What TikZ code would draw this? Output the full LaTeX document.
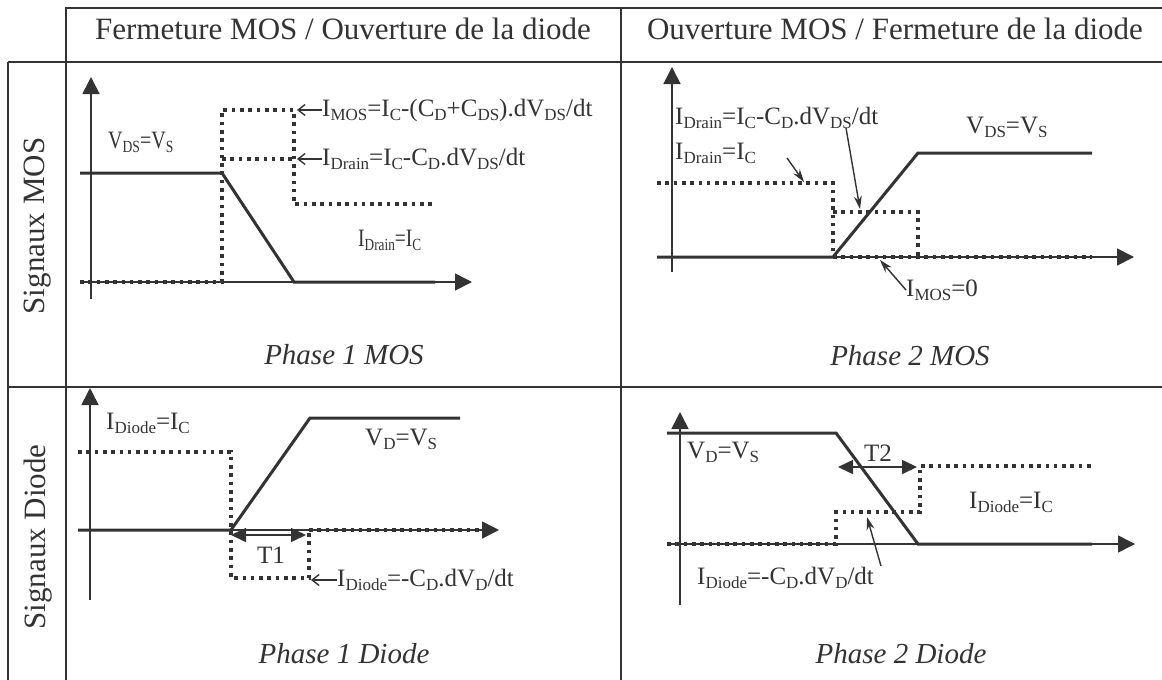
\documentclass[tikz,border=0pt]{standalone}
\usepackage{fontspec}
\setmainfont{Liberation Serif}
\usetikzlibrary{arrows.meta}
\definecolor{ink}{gray}{0.2}
\newcommand{\sbx}[1]{\raisebox{-0.35ex}{\fontsize{0.68em}{1em}\selectfont #1}}
\tikzset{
  gridline/.style={line width=1.2pt, draw=ink},
  axis/.style={line width=1.6pt, draw=ink, -{Triangle[length=17pt,width=17pt]}},
  sig/.style={line width=3pt, draw=ink, line join=miter},
  dots/.style={line width=3.6pt, draw=ink, dash pattern=on 3.6pt off 4.7pt},
  hdr/.style={font=\fontsize{31}{34}\selectfont, text=ink, inner sep=0pt},
  phase/.style={font=\fontsize{29}{32}\selectfont\itshape, text=ink, inner sep=0pt, anchor=base},
  lbl/.style={font=\fontsize{25}{28}\selectfont, text=ink, inner sep=0pt, anchor=west},
  barb/.style={line width=1.4pt, draw=ink, -{Straight Barb[length=7pt,width=11pt]}},
  poin/.style={line width=1.4pt, draw=ink, -{Stealth[length=13pt,width=8pt]}},
  dur/.style={line width=1.6pt, draw=ink, {Triangle[length=15pt,width=14pt]}-{Triangle[length=15pt,width=14pt]}}
}
\begin{document}
\begin{tikzpicture}[x=1pt,y=-1pt]
\useasboundingbox (0,0) rectangle (1162,680);
\fill[white] (0,0) rectangle (1162,680);
% ---------- table ----------
\draw[gridline] (65,8) -- (1162,8);
\draw[gridline] (8,62) -- (1162,62);
\draw[gridline] (8,387) -- (1162,387);
\draw[gridline] (8,62) -- (8,680);
\draw[gridline] (66,8) -- (66,680);
\draw[gridline] (621,8) -- (621,680);
\node[hdr, anchor=base] (h1) at (343,39) {Fermeture MOS / Ouverture de la diode};
\node[hdr, anchor=base] (h2) at (895,39) {Ouverture MOS / Fermeture de la diode};
\node[hdr, rotate=90] (r1) at (38,226) {Signaux MOS};
\node[hdr, rotate=90] (r2) at (38,537) {Signaux Diode};
% ---------- Phase 1 MOS ----------
\draw[axis] (91,299) -- (91,77);
\draw[axis] (80,282) -- (472,282);
\draw[sig] (80,173) -- (222,173) -- (294,282) -- (435,282);
\draw[dots] (80,282) -- (222,282) -- (222,110) -- (294,110) -- (294,204) -- (435,204);
\draw[dots] (222,159) -- (294,159);
\node[lbl] (vds1) at (108,142) {\scalebox{0.8}[1]{V\sbx{DS}=V\sbx{S}}};
\node[lbl] (imos1) at (322,110) {I\sbx{MOS}=I\sbx{C}-(C\sbx{D}+C\sbx{DS}).dV\sbx{DS}/dt};
\coordinate (imos1t) at (297,110);
\draw[barb] (imos1.west) -- (imos1t);
\node[lbl] (idr1) at (322,159) {I\sbx{Drain}=I\sbx{C}-C\sbx{D}.dV\sbx{DS}/dt};
\coordinate (idr1t) at (297,159);
\draw[barb] (idr1.west) -- (idr1t);
\node[lbl] (idc1) at (358,240) {\scalebox{0.78}[1]{I\sbx{Drain}=I\sbx{C}}};
\node[phase] (p1) at (344,364) {Phase 1 MOS};
% ---------- Phase 2 MOS ----------
\draw[axis] (672,272) -- (672,67);
\draw[axis] (657,257) -- (1134,257);
\draw[sig] (657,257) -- (833,257) -- (918,153) -- (1092,153);
\draw[dots] (657,183) -- (833,183) -- (833,257);
\draw[dots] (833,212) -- (918,212) -- (918,257);
\draw[dots] (833,257) -- (1092,257);
\node[lbl] (idr2) at (675,118) {I\sbx{Drain}=I\sbx{C}-C\sbx{D}.dV\sbx{DS}/dt};
\node[lbl] (idc2) at (675,153) {I\sbx{Drain}=I\sbx{C}};
\node[lbl] (vds2) at (966,127) {V\sbx{DS}=V\sbx{S}};
\node[lbl] (imos2) at (906,290) {I\sbx{MOS}=0};
\coordinate (a1s) at (787,158);
\coordinate (a1t) at (804,182);
\draw[poin] (a1s) -- (a1t);
\coordinate (a2s) at (846,128);
\coordinate (a2t) at (860,209);
\draw[poin] (a2s) -- (a2t);
\coordinate (a3t) at (880,260);
\draw[poin] (imos2.west) -- (a3t);
\node[phase] (p2) at (910,365) {Phase 2 MOS};
% ---------- Phase 1 Diode ----------
\draw[axis] (90,600) -- (90,388);
\draw[axis] (78,530) -- (499,530);
\draw[sig] (78,530) -- (231,530) -- (310,418) -- (460,418);
\draw[dots] (78,452) -- (231,452) -- (231,578) -- (309,578) -- (309,530);
\draw[dots] (309,530) -- (481,530);
\coordinate (t1a) at (231,535);
\coordinate (t1b) at (306,535);
\draw[dur] (t1a) -- (t1b);
\node[lbl, anchor=center] (t1) at (271,555) {T1};
\node[lbl] (idd3) at (106,423) {I\sbx{Diode}=I\sbx{C}};
\node[lbl] (vd3) at (365,439) {V\sbx{D}=V\sbx{S}};
\node[lbl] (icd3) at (337,580) {I\sbx{Diode}=-C\sbx{D}.dV\sbx{D}/dt};
\coordinate (icd3t) at (311,580);
\draw[barb] (icd3.west) -- (icd3t);
\node[phase] (p3) at (344,663) {Phase 1 Diode};
% ---------- Phase 2 Diode ----------
\draw[axis] (680,605) -- (680,412);
\draw[axis] (667,544) -- (1135,544);
\draw[sig] (667,433) -- (836,433) -- (918,544) -- (1092,544);
\draw[dots] (667,544) -- (836,544) -- (836,512) -- (920,512) -- (920,466) -- (1092,466);
\coordinate (t2a) at (838,467);
\coordinate (t2b) at (917,467);
\draw[dur] (t2a) -- (t2b);
\node[lbl, anchor=center] (t2) at (878,453) {T2};
\node[lbl] (vd4) at (687,452) {V\sbx{D}=V\sbx{S}};
\node[lbl] (idd4) at (969,502) {I\sbx{Diode}=I\sbx{C}};
\node[lbl] (icd4) at (697,578) {I\sbx{Diode}=-C\sbx{D}.dV\sbx{D}/dt};
\coordinate (a4s) at (881,566);
\coordinate (a4t) at (867,517);
\draw[poin] (a4s) -- (a4t);
\node[phase] (p4) at (901,663) {Phase 2 Diode};
\end{tikzpicture}
\end{document}
